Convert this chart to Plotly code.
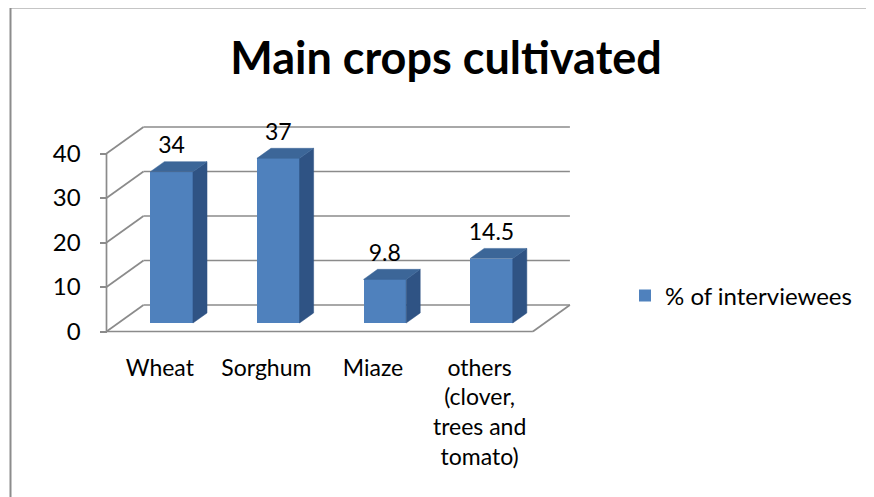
import plotly.graph_objects as go

# ---- data ----
categories = ["Wheat", "Sorghum", "Miaze", "others<br>(clover,<br>trees and<br>tomato)"]
values = [34, 37, 9.8, 14.5]
value_labels = ["34", "37", "9.8", "14.5"]
y_ticks = [0, 10, 20, 30, 40]
series_name = "% of interviewees"
title_text = "Main crops cultivated"

# ---- geometry (pixel mapping of the oblique 3D frame) ----
OFF = 8                    # page body margin
W, H = 874 - OFF, 497 - OFF
X0, P = 106.5 - OFF, 106.6      # px of first category boundary, px per category
Y0, S = 331.5 - OFF, 4.45       # px of value 0 on front plane, px per value unit
DX = 37.0 / P             # depth offset in category units
DY = 26.5 / S             # depth offset in value units
ZF, DZ, BW = 0.32, 0.38, 0.40   # bar front depth, bar depth, bar width

FRONT = "#4F81BD"
SIDE = "#2F5384"
TOP = "#3C6698"
GRID = "#8B8B8B"
FONT = "Lato"

n = len(categories)
centers = [i + 0.5 for i in range(n)]
xf = [c + ZF * DX for c in centers]
base = ZF * DY

fig = go.Figure()

# front faces
fig.add_trace(go.Bar(
    x=xf, y=values, base=[base] * n, width=BW,
    marker=dict(color=FRONT, line=dict(width=0)),
    name=series_name, showlegend=True, hoverinfo="skip",
))

# side and top faces
sx, sy = [], []
tx, ty = [], []
for xc, v in zip(xf, values):
    xl, xr = xc - BW / 2, xc + BW / 2
    top = base + v
    sx += [xr, xr + DZ * DX, xr + DZ * DX, xr, xr, None]
    sy += [base, base + DZ * DY, top + DZ * DY, top, base, None]
    tx += [xl, xr, xr + DZ * DX, xl + DZ * DX, xl, None]
    ty += [top, top, top + DZ * DY, top + DZ * DY, top, None]
fig.add_trace(go.Scatter(x=sx, y=sy, mode="lines", fill="toself", fillcolor=SIDE,
                         line=dict(color=SIDE, width=0.5), showlegend=False, hoverinfo="skip"))
fig.add_trace(go.Scatter(x=tx, y=ty, mode="lines", fill="toself", fillcolor=TOP,
                         line=dict(color=TOP, width=0.5), showlegend=False, hoverinfo="skip"))

# data labels
fig.add_trace(go.Scatter(
    x=xf, y=[base + v + 24.5 / S for v in values], mode="text", text=value_labels,
    textposition="middle center", textfont=dict(family=FONT, size=23, color="black"),
    showlegend=False, hoverinfo="skip", cliponaxis=False,
))

# frame shapes (behind bars)
shapes = []
line = dict(color=GRID, width=1.7)
ymax = max(y_ticks)
for t in y_ticks:
    shapes.append(dict(type="line", xref="x", yref="y", x0=DX, y0=t + DY, x1=n + DX, y1=t + DY,
                       line=line, layer="below"))
    shapes.append(dict(type="line", xref="x", yref="y", x0=0, y0=t, x1=DX, y1=t + DY,
                       line=line, layer="below"))
shapes.append(dict(type="line", xref="x", yref="y", x0=0, y0=0, x1=0, y1=ymax, line=line, layer="below"))
shapes.append(dict(type="line", xref="x", yref="y", x0=0, y0=0, x1=n, y1=0, line=line, layer="below"))
shapes.append(dict(type="line", xref="x", yref="y", x0=n, y0=0, x1=n + DX, y1=DY, line=line, layer="below"))
# chart border (left and top)
border = dict(color="#8C8C8C", width=2)
bx = (10.5 - OFF) / W
by = 1 - (7.5 - OFF) / H
shapes.append(dict(type="line", xref="paper", yref="paper", x0=bx, y0=0, x1=bx, y1=by, line=border))
shapes.append(dict(type="line", xref="paper", yref="paper", x0=bx, y0=by, x1=1, y1=by, line=border))

xr_ = [-X0 / P, (W - X0) / P]
yr_ = [(Y0 - H) / S, Y0 / S]
axis_pos_y = (H - Y0) / H

fig.update_layout(
    width=W, height=H,
    margin=dict(l=0, r=0, t=0, b=0, pad=0),
    paper_bgcolor="white", plot_bgcolor="white",
    shapes=shapes,
    title=dict(text=title_text, x=(446 - OFF) / W, xanchor="center", y=1 - (58 - OFF) / H, yanchor="middle",
               font=dict(family=FONT, size=45, color="black", weight="bold")),
    xaxis=dict(range=xr_, domain=[0, 1], anchor="free", position=axis_pos_y,
               tickvals=centers, ticktext=categories, ticks="", showgrid=False, zeroline=False,
               showline=False, ticklabelstandoff=20,
               tickfont=dict(family=FONT, size=23, color="black"), fixedrange=True),
    xaxis2=dict(range=xr_, overlaying="x", anchor="free", position=axis_pos_y,
                tickvals=list(range(n + 1)), ticks="outside", ticklen=7, tickwidth=1.7, tickcolor=GRID,
                showticklabels=False, showgrid=False, zeroline=False, showline=False, side="bottom"),
    yaxis=dict(range=yr_, domain=[0, 1], anchor="free", position=X0 / W,
               tickvals=y_ticks, ticks="outside", ticklen=7, tickwidth=1.7, tickcolor=GRID,
               showgrid=False, zeroline=False, showline=False, ticklabelstandoff=14,
               tickfont=dict(family=FONT, size=24, color="black"), fixedrange=True),
    legend=dict(x=(625 - OFF) / W, xanchor="left", y=1 - (296 - OFF) / H, yanchor="middle",
                font=dict(family=FONT, size=24, color="black"), bgcolor="rgba(0,0,0,0)"),
    bargap=0,
)

fig.write_html("out.html")
